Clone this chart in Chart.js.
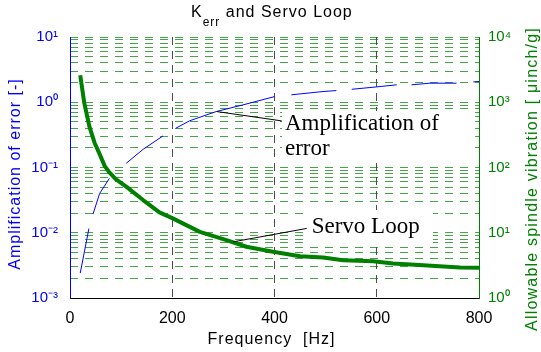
<!DOCTYPE html>
<html>
<head>
<meta charset="utf-8">
<script src="https://cdn.jsdelivr.net/npm/chart.js@4/dist/chart.umd.min.js"></script>
<style>
  html, body { margin: 0; padding: 0; background: #fff; }
  #wrap { position: relative; width: 541px; height: 352px; overflow: hidden; background: #fff; }
  #c { position: absolute; left: 0; top: 0; }
  .t { position: absolute; white-space: nowrap; font-family: "Liberation Sans", Arial, sans-serif; }
  .ann { position: absolute; white-space: nowrap; font-family: "Liberation Serif", "Times New Roman", serif; font-size: 23px; line-height: 25px; color: #000; }
  .box { position: absolute; background: #fff; }
</style>
</head>
<body>
<div id="wrap">
  <canvas id="c" width="541" height="352"></canvas>
  <div class="t" style="left:191px;top:4px;font-size:16px;line-height:16px;letter-spacing:1px;color:#000;">K<span style="font-size:12px;vertical-align:-9px;">err</span> and Servo Loop</div>
  <div class="t" style="left:-134.7px;top:164.5px;width:300px;height:18px;line-height:18px;font-size:16px;letter-spacing:1px;text-align:center;color:#0000ff;transform:rotate(-90deg);">Amplification of error [-]</div>
  <div class="t" style="left:331.7px;top:169.5px;width:400px;height:18px;line-height:18px;font-size:16px;letter-spacing:1.2px;text-align:center;color:#008000;transform:rotate(-90deg);">Allowable spindle vibration [ &#956;inch/g]</div>
  <div class="t" style="left:121.5px;top:330.3px;width:300px;height:18px;line-height:18px;font-size:16px;letter-spacing:1px;text-align:center;color:#000;">Frequency&nbsp; [Hz]</div>
  <div class="box" style="left:282px;top:111px;width:191px;height:49px;"></div>
  <div class="ann" style="left:285px;top:109.75px;">Amplification of<br>error</div>
  <div class="box" style="left:307px;top:210px;width:126px;height:34px;"></div>
  <div class="ann" style="left:311.7px;top:213px;">Servo Loop</div>
</div>
<script>
// ---- data ----
const freqAmp  = [20, 37, 41, 45, 58, 77, 90, 110, 143, 182, 195, 207, 234, 286, 338, 400, 415, 433, 495, 521, 536, 551, 600, 639, 654, 668, 704, 756, 772, 789, 800];
const ampError = [0.0024, 0.0116, null, 0.0193, 0.040, 0.068, null, 0.116, 0.19, 0.305, null, 0.40, 0.52, 0.72, 0.91, 1.22, null, 1.30, 1.46, 1.51, null, 1.58, 1.72, 1.85, null, 1.85, 1.96, 1.96, null, 2.05, 2.08];

const freqServo = [20, 28, 38, 48, 58, 68, 77, 90, 110, 143, 175, 201, 254, 306, 345, 397, 450, 495, 534, 593, 632, 691, 763, 800];
const servoLoop = [2600, 970, 424, 240, 160, 105, 84, 66, 51, 31.7, 20.5, 16.6, 10.3, 7.7, 6.1, 5.1, 4.37, 4.17, 3.79, 3.66, 3.38, 3.18, 2.93, 2.9];

const xTicks = [0, 200, 400, 600, 800];
const leftDecades = [1e-3, 1e-2, 1e-1, 1, 10];
const rightDecades = [1, 10, 100, 1000, 10000];

// leader lines of the annotations, in data units [freq, value]
const ampLeader   = { axis: 'y',  from: [287, 0.72], to: [414, 0.518] };
const servoLeader = { axis: 'y1', from: [319, 7.25], to: [463, 11.65] };

// ---- helpers ----
const supMap = { '-': '\u207B', '0': '\u2070', '1': '\u00B9', '2': '\u00B2', '3': '\u00B3', '4': '\u2074' };
function isDecade(v) { const l = Math.log10(v); return Math.abs(l - Math.round(l)) < 1e-9; }
function decadeLabel(v) { const e = Math.round(Math.log10(v)); return '10' + String(e).split('').map(c => supMap[c]).join(''); }
function logTicks(decades) {
  const out = [];
  for (let i = 0; i < decades.length; i++) {
    const d = decades[i];
    if (i === decades.length - 1) { out.push(d); break; }
    for (let k = 1; k < 10; k++) out.push(d * k);
  }
  return out;
}

const GREEN = 'rgb(0,128,0)';

const leaderPlugin = {
  id: 'leaders',
  afterDatasetsDraw(chart) {
    const { ctx, scales } = chart;
    ctx.save();
    ctx.strokeStyle = '#000';
    ctx.lineWidth = 1;
    [ampLeader, servoLeader].forEach(l => {
      const ys = scales[l.axis];
      ctx.beginPath();
      ctx.moveTo(scales.x.getPixelForValue(l.from[0]), ys.getPixelForValue(l.from[1]));
      ctx.lineTo(scales.x.getPixelForValue(l.to[0]), ys.getPixelForValue(l.to[1]));
      ctx.stroke();
    });
    ctx.restore();
  }
};

const tickFont = { family: 'Liberation Sans', size: 15 };
const xTickFont = { family: 'Liberation Sans', size: 16 };

new Chart(document.getElementById('c'), {
  type: 'line',
  data: {
    datasets: [
      {
        label: 'Servo Loop',
        data: freqServo.map((f, i) => ({ x: f, y: servoLoop[i] })),
        yAxisID: 'y1',
        borderColor: GREEN,
        borderWidth: 4,
        borderJoinStyle: 'round',
        pointRadius: 0,
        tension: 0,
        order: 0
      },
      {
        label: 'Amplification of error',
        data: freqAmp.map((f, i) => ({ x: f, y: ampError[i] })),
        yAxisID: 'y',
        borderColor: '#0000ff',
        borderWidth: 1,
        pointRadius: 0,
        tension: 0,
        spanGaps: false,
        order: 1
      }
    ]
  },
  options: {
    responsive: false,
    animation: false,
    devicePixelRatio: 1,
    layout: { padding: { top: 37, left: 0, right: 0, bottom: 0 } },
    plugins: { legend: { display: false }, tooltip: { enabled: false }, title: { display: false } },
    scales: {
      x: {
        type: 'linear',
        min: 0, max: 800,
        afterFit: s => { s.height = 54; },
        afterBuildTicks: s => { s.ticks = xTicks.map(v => ({ value: v })); },
        ticks: { color: '#000', font: xTickFont, padding: 11, autoSkip: false, maxRotation: 0 },
        grid: {
          drawTicks: false,
          lineWidth: 1,
          color: c => (c.tick && c.tick.value > 0 && c.tick.value < 800) ? 'rgba(0,0,0,0.7)' : 'rgba(0,0,0,0)'
        },
        border: { display: true, color: '#000', width: 1, dash: [8, 6] }
      },
      y: {
        type: 'logarithmic',
        position: 'left',
        min: 1e-3, max: 10,
        afterFit: s => { s.width = 70; },
        afterBuildTicks: s => { s.ticks = logTicks(leftDecades).map(v => ({ value: v })); },
        ticks: { color: '#0000ff', font: tickFont, padding: 12, autoSkip: false, callback: v => isDecade(v) ? decadeLabel(v) : '' },
        grid: { drawOnChartArea: false, drawTicks: false },
        border: { display: true, color: '#0000ff', width: 1 }
      },
      y1: {
        type: 'logarithmic',
        position: 'right',
        min: 1, max: 10000,
        afterFit: s => { s.width = 62; },
        afterBuildTicks: s => { s.ticks = logTicks(rightDecades).map(v => ({ value: v })); },
        ticks: { color: GREEN, font: tickFont, padding: 9, autoSkip: false, callback: v => isDecade(v) ? decadeLabel(v) : '' },
        grid: {
          drawOnChartArea: true,
          drawTicks: false,
          lineWidth: 1,
          color: c => (c.tick && c.tick.value <= 1) ? 'rgba(0,0,0,0)' : 'rgba(0,128,0,0.72)'
        },
        border: { display: true, color: GREEN, width: 1, dash: [8, 7] }
      }
    }
  },
  plugins: [leaderPlugin]
});
</script>
</body>
</html>
